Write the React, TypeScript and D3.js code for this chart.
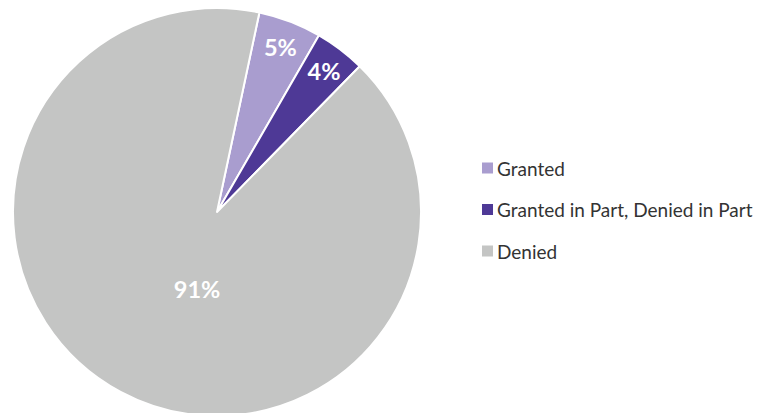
import { useEffect, useRef } from 'react';
import * as d3 from 'd3';

const categories = ['Granted', 'Granted in Part, Denied in Part', 'Denied'];
const values = [5, 4, 91];
const labels = ['5%', '4%', '91%'];
const colors = ['#a99dcf', '#4e3996', '#c4c5c4'];

const WIDTH = 757;
const HEIGHT = 413;

export default function App() {
	const svgRef = useRef<SVGSVGElement>(null);

	useEffect(() => {
		if (!svgRef.current) return;
		const svg = d3.select(svgRef.current);
		svg.selectAll('*').remove();

		const cx = 217;
		const cy = 212;
		const radius = 204;
		const startAngle = (12 * Math.PI) / 180;

		const data = categories.map((c, i) => ({ name: c, value: values[i], label: labels[i], color: colors[i] }));

		const pie = d3
			.pie<{ name: string; value: number; label: string; color: string }>()
			.value((d) => d.value)
			.sort(null)
			.startAngle(startAngle)
			.endAngle(startAngle + Math.PI * 2);

		const arcs = pie(data);
		const arc = d3.arc<d3.PieArcDatum<any>>().innerRadius(0).outerRadius(radius);

		const g = svg.append('g').attr('transform', `translate(${cx},${cy})`);

		g.selectAll('path')
			.data(arcs)
			.enter()
			.append('path')
			.attr('d', arc as any)
			.attr('fill', (d) => d.data.color)
			.attr('stroke', '#ffffff')
			.attr('stroke-width', 2)
			.attr('stroke-linejoin', 'round');

		// labels: small slices near the rim, big slice nearer the centre
		const labelPos = (d: d3.PieArcDatum<any>) => {
			const big = d.value > 50;
			const r = big ? 80 : 177;
			const a = (d.startAngle + d.endAngle) / 2 - (big ? 0.24 : 0);
			return [Math.sin(a) * r, -Math.cos(a) * r];
		};

		g.selectAll('text.lbl')
			.data(arcs)
			.enter()
			.append('text')
			.attr('class', 'lbl')
			.attr('x', (d) => labelPos(d)[0])
			.attr('y', (d) => labelPos(d)[1])
			.attr('text-anchor', 'middle')
			.attr('dominant-baseline', 'central')
			.attr('fill', '#ffffff')
			.style('font-family', 'Lato, "Open Sans", sans-serif')
			.style('font-weight', 700)
			.style('font-size', '23.5px')
			.text((d) => d.data.label);

		// legend
		const legendY = d3.scalePoint<string>().domain(categories).range([168, 251]);
		const legend = svg
			.append('g')
			.selectAll('g')
			.data(data)
			.enter()
			.append('g')
			.attr('transform', (d) => `translate(482,${legendY(d.name)})`);

		legend
			.append('rect')
			.attr('x', 0)
			.attr('y', -5.5)
			.attr('width', 11)
			.attr('height', 11)
			.attr('fill', (d) => d.color);

		legend
			.append('text')
			.attr('x', 15)
			.attr('y', 0)
			.attr('dominant-baseline', 'central')
			.attr('fill', '#333333')
			.style('font-family', 'Lato, "Open Sans", sans-serif')
			.style('font-size', '19px')
			.text((d) => d.name);
	}, []);

	return (
		<div style={{ position: 'absolute', left: 0, top: 0 }}>
			<svg ref={svgRef} width={WIDTH} height={HEIGHT} style={{ display: 'block' }}></svg>
		</div>
	);
}
